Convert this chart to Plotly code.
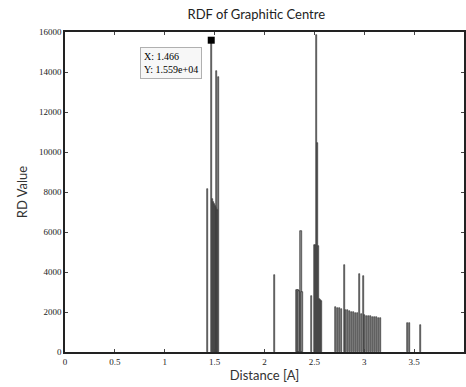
import plotly.graph_objects as go

# RDF bins (distance in Angstrom) and RD values
distance = [
    1.426, 1.466, 1.476, 1.486, 1.496, 1.506, 1.516, 1.523, 1.533, 1.543,
    2.100,
    2.326, 2.336, 2.346, 2.366, 2.376,
    2.468, 2.500, 2.510, 2.523, 2.533, 2.543, 2.553, 2.563, 2.573,
    2.716, 2.736, 2.756, 2.776, 2.806, 2.816, 2.836, 2.856, 2.876, 2.896,
    2.916, 2.936, 2.956, 2.976, 2.990, 3.006, 3.026, 3.046, 3.066, 3.086,
    3.106, 3.126, 3.146, 3.166,
    3.433, 3.456, 3.566,
]
rd_value = [
    8150, 15590, 7650, 7500, 7400, 7300, 7200, 14050, 7100, 13750,
    3850,
    3100, 3080, 3050, 6050, 3000,
    2800, 5350, 5350, 15850, 10430, 5300, 2650, 2600, 2550,
    2250, 2200, 2180, 2150, 4350, 2100, 2080, 2050, 2020, 1990,
    1960, 1930, 3900, 1880, 3800, 1850, 1820, 1800, 1780, 1760,
    1750, 1740, 1720, 1700,
    1470, 1450, 1330,
]

# data tip
tip_x = 1.466
tip_y = 15590

x_ticks = [0, 0.5, 1, 1.5, 2, 2.5, 3, 3.5]
x_tick_text = ["0", "0.5", "1", "1.5", "2", "2.5", "3", "3.5"]
y_ticks = [0, 2000, 4000, 6000, 8000, 10000, 12000, 14000, 16000]
y_tick_text = ["0", "2000", "4000", "6000", "8000", "10000", "12000", "14000", "16000"]

fig = go.Figure()
fig.add_trace(go.Bar(
    x=distance, y=rd_value, width=0.011,
    marker=dict(color="#8a8a8a", line=dict(color="#222222", width=0.6)),
    showlegend=False, hoverinfo="x+y",
))
fig.add_trace(go.Scatter(
    x=[tip_x], y=[tip_y], mode="markers",
    marker=dict(symbol="square", size=7, color="black"),
    showlegend=False,
))
fig.add_annotation(
    x=tip_x, y=tip_y, xref="x", yref="y",
    text="X: %.3f<br>Y: %.3fe+04" % (tip_x, tip_y / 1e4),
    showarrow=False, xanchor="right", yanchor="top",
    xshift=-9, yshift=-7, align="left",
    font=dict(family="Liberation Serif", size=10, color="black"),
    bgcolor="#f7f7f7", bordercolor="#b0b0b0", borderwidth=1, borderpad=3,
)

axis_common = dict(
    showline=True, linecolor="#222222", linewidth=1.5, mirror="allticks",
    ticks="inside", ticklen=3, tickcolor="#444444", showgrid=False,
    zeroline=False,
    tickfont=dict(family="Liberation Serif", size=9, color="#222222"),
)
fig.update_xaxes(
    range=[0, 4], tickvals=x_ticks, ticktext=x_tick_text,
    title=dict(text="Distance [A]", standoff=5,
               font=dict(family="Lato", size=13, color="#333333")),
    **axis_common,
)
fig.update_yaxes(
    range=[0, 16000], tickvals=y_ticks, ticktext=y_tick_text,
    title=dict(text="RD Value", standoff=8,
               font=dict(family="Lato", size=13, color="#333333")),
    **axis_common,
)
fig.update_layout(
    width=466, height=387,
    margin=dict(l=65, r=0, t=32, b=35),
    paper_bgcolor="white", plot_bgcolor="white",
    bargap=0,
    title=dict(text="RDF of Graphitic Centre", x=0.55, xanchor="center",
               y=0.975, yanchor="top",
               font=dict(family="Lato", size=13, color="#222222")),
)
fig.write_html("out.html", config={"displayModeBar": False},
               post_script="document.body.style.margin='0';document.body.style.overflow='hidden';")
